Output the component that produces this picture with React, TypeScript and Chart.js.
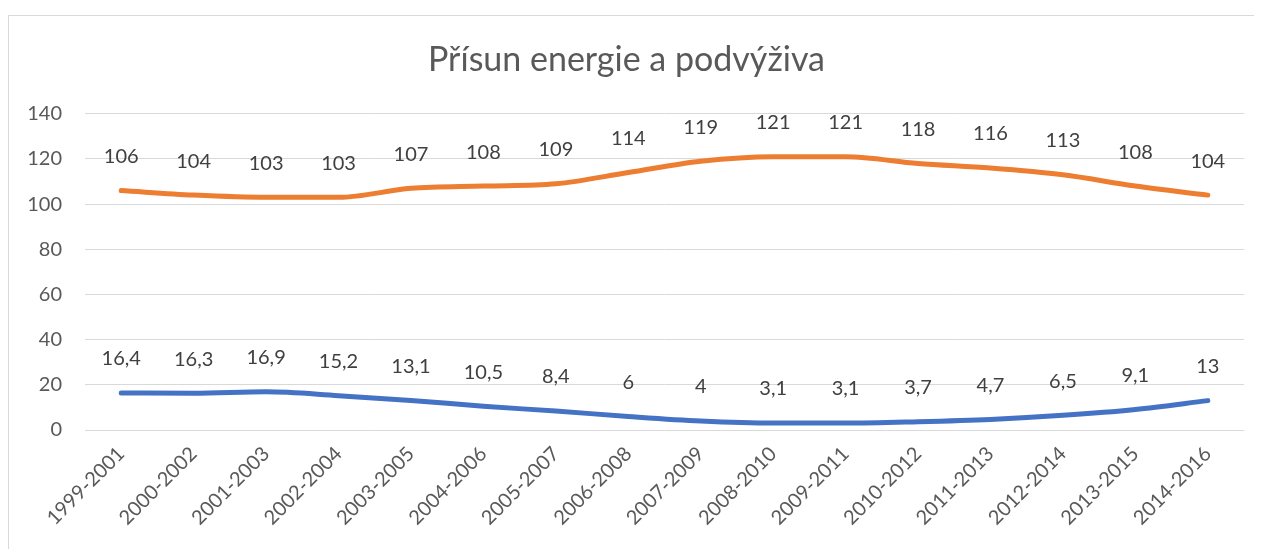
import React, { useEffect, useRef } from "react";
import { Chart, registerables } from "chart.js";

Chart.register(...registerables);

const categories = [
  "1999-2001", "2000-2002", "2001-2003", "2002-2004", "2003-2005", "2004-2006",
  "2005-2007", "2006-2008", "2007-2009", "2008-2010", "2009-2011", "2010-2012",
  "2011-2013", "2012-2014", "2013-2015", "2014-2016",
];
const energySupply = [106, 104, 103, 103, 107, 108, 109, 114, 119, 121, 121, 118, 116, 113, 108, 104];
const undernourishment = [16.4, 16.3, 16.9, 15.2, 13.1, 10.5, 8.4, 6, 4, 3.1, 3.1, 3.7, 4.7, 6.5, 9.1, 13];
const yTicks = [0, 20, 40, 60, 80, 100, 120, 140];
const title = "Přísun energie a podvýživa";

const FONT = "Lato, 'Noto Sans', sans-serif";

const dataLabels = {
  id: "dataLabels",
  afterDatasetsDraw(chart: any) {
    const ctx = chart.ctx;
    ctx.save();
    ctx.font = `20px ${FONT}`;
    ctx.fillStyle = "#404040";
    ctx.textAlign = "center";
    ctx.textBaseline = "middle";
    chart.data.datasets.forEach((ds: any, i: number) => {
      const meta = chart.getDatasetMeta(i);
      meta.data.forEach((pt: any, j: number) => {
        const v = ds.data[j];
        ctx.fillText(String(v).replace(".", ","), pt.x, pt.y - 34);
      });
    });
    ctx.restore();
  },
};

export default function App() {
  const ref = useRef<HTMLCanvasElement>(null);
  useEffect(() => {
    if (!ref.current) return;
    const chart = new Chart(ref.current, {
      type: "line",
      data: {
        labels: categories,
        datasets: [
          {
            data: energySupply,
            borderColor: "#ED7D31",
            backgroundColor: "#ED7D31",
            borderWidth: 5,
            borderCapStyle: "round",
            cubicInterpolationMode: "monotone",
            pointRadius: 0,
          },
          {
            data: undernourishment,
            borderColor: "#4472C4",
            backgroundColor: "#4472C4",
            borderWidth: 5,
            borderCapStyle: "round",
            cubicInterpolationMode: "monotone",
            pointRadius: 0,
          },
        ],
      },
      options: {
        animation: false,
        responsive: false,
        maintainAspectRatio: false,
        layout: { padding: { left: 0, right: 18, top: 0, bottom: 0 } },
        plugins: {
          legend: { display: false },
          tooltip: { enabled: false },
          title: {
            display: true,
            text: title,
            color: "#595959",
            font: { family: FONT, size: 34, weight: "normal" },
            padding: { top: 24, bottom: 33 },
          },
        },
        scales: {
          x: {
            offset: true,
            grid: { display: false },
            border: { display: false },
            ticks: {
              color: "#595959",
              font: { family: FONT, size: 20 },
              autoSkip: false,
              maxRotation: 45,
              minRotation: 45,
              padding: 4,
            },
            afterFit(scale: any) {
              scale.height = 120;
            },
          },
          y: {
            min: 0,
            max: 140,
            afterBuildTicks(scale: any) {
              scale.ticks = yTicks.map((v) => ({ value: v }));
            },
            grid: { color: "#d9d9d9", lineWidth: 1, drawTicks: false },
            border: { display: false },
            ticks: {
              color: "#595959",
              font: { family: FONT, size: 20 },
              padding: 23,
            },
            afterFit(scale: any) {
              scale.width = 76;
            },
          },
        },
      },
      plugins: [dataLabels],
    });
    return () => chart.destroy();
  }, []);
  return (
    <div
      style={{
        marginTop: 7,
        width: 1253,
        height: 534,
        borderTop: "1px solid #d9d9d9",
        borderLeft: "1px solid #d9d9d9",
        boxSizing: "border-box",
        overflow: "hidden",
        background: "#fff",
      }}
    >
      <canvas ref={ref} width={1253} height={534} style={{ display: "block" }} />
    </div>
  );
}
